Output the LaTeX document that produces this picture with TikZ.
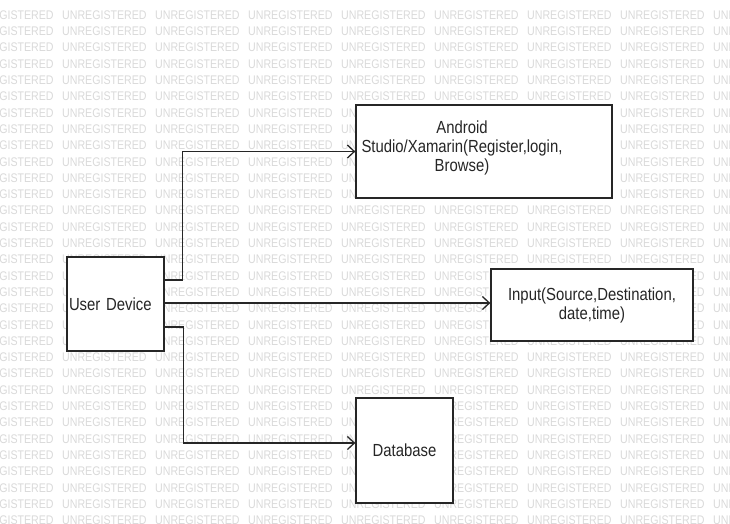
\documentclass[tikz,border=0pt]{standalone}
\usepackage{fontspec}
\setmainfont{Liberation Sans}
\newfontfamily\narrowfont[FakeStretch=0.85]{Liberation Sans}
\usetikzlibrary{arrows.meta}

\begin{document}
\begin{tikzpicture}
  [x=1pt,y=-1pt,
   box/.style={rectangle,draw=black!85,line width=1.3pt,fill=white,inner sep=0pt},
   lbl/.style={font=\narrowfont\fontsize{17.5}{19}\selectfont,align=center,text=black!85},
   wm/.style={font=\narrowfont\fontsize{12.5}{13}\selectfont,text=black!15,anchor=west,inner sep=0pt},
   arr/.style={draw=black!85,line width=1.3pt,-{Straight Barb[length=7pt,width=13pt,line width=1.3pt]}}]
  \useasboundingbox (0,0) rectangle (730,523);

  % background
  \begin{scope}
    \clip (0,0) rectangle (730,523);
    \foreach \r in {0,...,31}
      \foreach \c in {0,...,8}
        \node[wm] (wm-\r-\c) at (-31+93*\c,15+16.3*\r) {UNREGISTERED};
  \end{scope}

  \node[box,lbl,align=left,text width=93pt,inner xsep=2pt,minimum height=94pt] (userdev) at (115.5,304) {User Device};
  \node[box,minimum width=256pt,minimum height=93pt] (android) at (484,151.5) {};
  \node[lbl] (androidtxt) at (462,148) {Android\\Studio/Xamarin(Register,login,\\Browse)};
  \node[box,lbl,minimum width=202pt,minimum height=72pt] (input) at (592,305) {Input(Source,Destination,\\date,time)};
  \node[box,lbl,minimum width=97pt,minimum height=105pt] (database) at (404.5,450.5) {Database};

  \draw[arr] ([yshift=24pt]userdev.east) -- ++(18,0) |- (android.west);
  \draw[arr] ([yshift=1pt]userdev.east) -- ([yshift=1pt]userdev.east -| input.west);
  \draw[arr] ([yshift=-23pt]userdev.east) -- ++(19,0) |- ([yshift=7.5pt]database.west);

\end{tikzpicture}
\end{document}
